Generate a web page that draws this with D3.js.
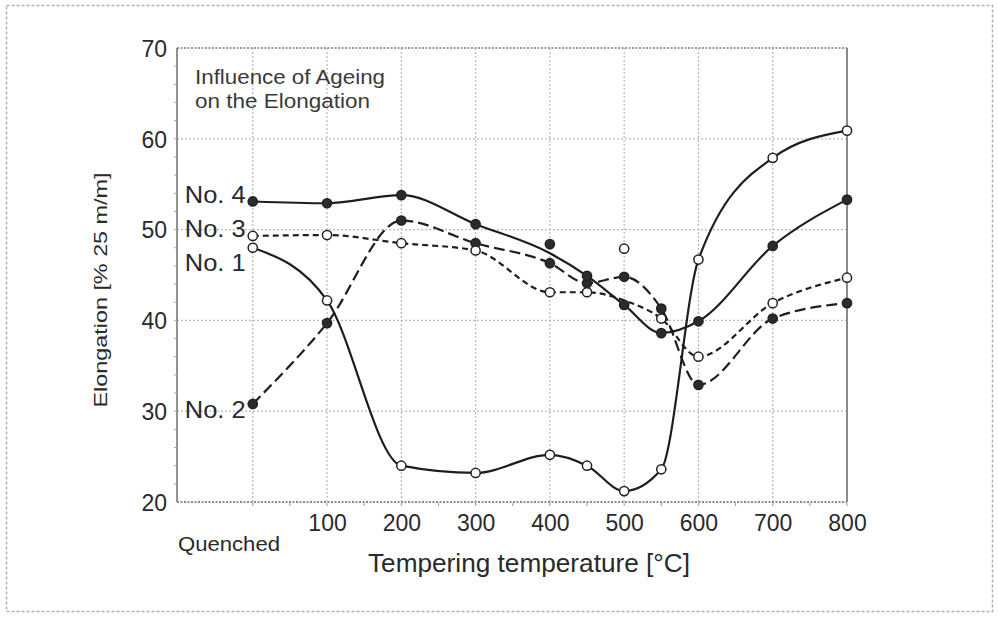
<!DOCTYPE html>
<html>
<head>
<meta charset="utf-8">
<script src="https://cdn.jsdelivr.net/npm/d3@7"></script>
<style>
  html, body { margin: 0; padding: 0; background: #fff; }
  svg { display: block; font-family: "Liberation Sans", Arial, sans-serif; }
</style>
</head>
<body>
<svg id="chart" width="998" height="617"></svg>
<script>
// Tempering temperatures (0 = quenched state)
const temps = [0, 100, 200, 300, 400, 450, 500, 550, 600, 700, 800];

// Measured elongation [% 25 m/m] per specimen
const no1 = [48.0, 42.2, 24.0, 23.2, 25.2, 24.0, 21.2, 23.6, 46.7, 57.9, 60.9];
const no2 = [30.8, 39.7, 51.0, 48.5, 46.3, 44.1, 44.8, 41.3, 32.9, 40.2, 41.9];
const no3 = [49.3, 49.4, 48.5, 47.7, 43.1, 43.1, 47.9, 40.2, 36.0, 41.9, 44.7];
const no4 = [53.1, 52.9, 53.8, 50.6, 48.4, 44.9, 41.7, 38.6, 39.9, 48.2, 53.3];

// Smoothed trend curves (scattered points lie off the drawn curve)
const no3Curve = [49.3, 49.4, 48.5, 47.7, 43.1, 43.1, 42.2, 40.2, 36.0, 41.9, 44.7];
const no4Curve = [53.1, 52.9, 53.8, 50.6, 47.4, 44.9, 41.7, 38.6, 39.9, 48.2, 53.3];

const seriesNames = ["No. 1", "No. 2", "No. 3", "No. 4"];
const xTickValues = [100, 200, 300, 400, 500, 600, 700, 800];
const xGridValues = [0, 100, 200, 300, 400, 500, 600, 700];
const yTickValues = [20, 30, 40, 50, 60, 70];
const yGridValues = [30, 40, 50, 60];

const svg = d3.select("#chart");
const pLeft = 177, pRight = 847, pTop = 48, pBottom = 502;

const x = d3.scaleLinear().domain([-102, 800]).range([pLeft, pRight]);
const y = d3.scaleLinear().domain([20, 70]).range([pBottom, pTop]);

// Outer dashed frame
svg.append("rect")
  .attr("x", 6.5).attr("y", 5.5).attr("width", 986).attr("height", 606)
  .attr("fill", "none").attr("stroke", "#b0b0b0").attr("stroke-width", 1.5)
  .attr("stroke-dasharray", "3,2");

// Grid
const grid = svg.append("g");
grid.selectAll("line.v").data(xGridValues).join("line")
  .attr("x1", d => x(d)).attr("x2", d => x(d))
  .attr("y1", pTop).attr("y2", pBottom)
  .attr("stroke", "#b8b8b8").attr("stroke-width", 1.2).attr("stroke-dasharray", "2,2");
grid.selectAll("line.h").data(yGridValues).join("line")
  .attr("x1", pLeft).attr("x2", pRight)
  .attr("y1", d => y(d)).attr("y2", d => y(d))
  .attr("stroke", "#b8b8b8").attr("stroke-width", 1.2).attr("stroke-dasharray", "2,2");

// Plot frame: dotted top and bottom, solid sides
svg.append("line").attr("x1", pLeft).attr("x2", pRight).attr("y1", pTop).attr("y2", pTop)
  .attr("stroke", "#9a9a9a").attr("stroke-width", 2).attr("stroke-dasharray", "2,1.5");
svg.append("line").attr("x1", pLeft).attr("x2", pRight).attr("y1", pBottom).attr("y2", pBottom)
  .attr("stroke", "#8a8a8a").attr("stroke-width", 2).attr("stroke-dasharray", "2,1.5");
svg.append("line").attr("x1", pRight).attr("x2", pRight).attr("y1", pTop).attr("y2", pBottom)
  .attr("stroke", "#8a8a8a").attr("stroke-width", 2);
svg.append("line").attr("x1", pLeft).attr("x2", pLeft).attr("y1", pTop).attr("y2", pBottom)
  .attr("stroke", "#777").attr("stroke-width", 1.6);

// Minor ticks
svg.append("g").selectAll("line").data(d3.range(0, 801, 50)).join("line")
  .attr("x1", d => x(d)).attr("x2", d => x(d))
  .attr("y1", pBottom + 1).attr("y2", pBottom + 4)
  .attr("stroke", "#999").attr("stroke-width", 1);
svg.append("g").selectAll("line").data(d3.range(22, 70, 2)).join("line")
  .attr("x1", pLeft - 3).attr("x2", pLeft)
  .attr("y1", d => y(d)).attr("y2", d => y(d))
  .attr("stroke", "#aaa").attr("stroke-width", 1);

// Axes (labels only; frame drawn above)
const yAxis = svg.append("g").attr("transform", `translate(${pLeft},0)`)
  .call(d3.axisLeft(y).tickValues(yTickValues).tickSize(0).tickPadding(10));
yAxis.select(".domain").remove();
yAxis.selectAll("text").attr("font-size", 23).attr("fill", "#2a2a2a")
  .attr("font-family", "Liberation Sans, Arial, sans-serif").attr("dy", "0.36em");

const xAxis = svg.append("g").attr("transform", `translate(0,${pBottom})`)
  .call(d3.axisBottom(x).tickValues(xTickValues).tickSize(0).tickPadding(0));
xAxis.select(".domain").remove();
xAxis.selectAll("text").attr("font-size", 23).attr("fill", "#2a2a2a")
  .attr("font-family", "Liberation Sans, Arial, sans-serif")
  .attr("dy", null).attr("y", 29);

svg.append("text").attr("x", 178).attr("y", 551)
  .attr("font-size", 21).attr("fill", "#2a2a2a")
  .attr("textLength", 102).attr("lengthAdjust", "spacingAndGlyphs")
  .text("Quenched");

svg.append("text").attr("x", 529).attr("y", 572)
  .attr("text-anchor", "middle").attr("font-size", 25).attr("fill", "#2a2a2a")
  .attr("textLength", 322).attr("lengthAdjust", "spacingAndGlyphs")
  .text("Tempering temperature [°C]");

svg.append("text")
  .attr("transform", "translate(107,290) rotate(-90)")
  .attr("text-anchor", "middle").attr("font-size", 19).attr("fill", "#2a2a2a")
  .attr("textLength", 235).attr("lengthAdjust", "spacingAndGlyphs")
  .text("Elongation [% 25 m/m]");

// Note
svg.append("text").attr("x", 195).attr("y", 84)
  .attr("font-size", 20).attr("fill", "#3a3a3a")
  .attr("textLength", 190).attr("lengthAdjust", "spacingAndGlyphs")
  .text("Influence of Ageing");
svg.append("text").attr("x", 195).attr("y", 108)
  .attr("font-size", 20).attr("fill", "#3a3a3a")
  .attr("textLength", 175).attr("lengthAdjust", "spacingAndGlyphs")
  .text("on the Elongation");

// Curves
const lineGen = d3.line()
  .x((d, i) => x(temps[i]))
  .y(d => y(d))
  .curve(d3.curveMonotoneX);

const curves = [
  { vals: no1, dash: null },
  { vals: no2, dash: "11,5" },
  { vals: no3Curve, dash: "6,4" },
  { vals: no4Curve, dash: null }
];
svg.append("g").selectAll("path").data(curves).join("path")
  .attr("d", d => lineGen(d.vals))
  .attr("fill", "none").attr("stroke", "#1e1e1e").attr("stroke-width", 2.2)
  .attr("stroke-dasharray", d => d.dash);

// Markers
const markerSets = [
  { vals: no1, open: true },
  { vals: no2, open: false },
  { vals: no3, open: true },
  { vals: no4, open: false }
];
markerSets.forEach(s => {
  svg.append("g").selectAll("circle").data(s.vals).join("circle")
    .attr("cx", (d, i) => x(temps[i])).attr("cy", d => y(d))
    .attr("r", 4.6)
    .attr("fill", s.open ? "#fff" : "#2b2b2b")
    .attr("stroke", "#222").attr("stroke-width", 1.5);
});

// Series labels beside the quenched points
const labelShift = [15, 5, -8, -7];
const firstVals = [no1[0], no2[0], no3[0], no4[0]];
svg.append("g").selectAll("text").data(seriesNames).join("text")
  .attr("x", x(0) - 7)
  .attr("y", (d, i) => y(firstVals[i]) + labelShift[i])
  .attr("dy", "0.36em")
  .attr("text-anchor", "end").attr("font-size", 24).attr("fill", "#2a2a2a")
  .attr("textLength", 61).attr("lengthAdjust", "spacingAndGlyphs")
  .text(d => d);
</script>
</body>
</html>
